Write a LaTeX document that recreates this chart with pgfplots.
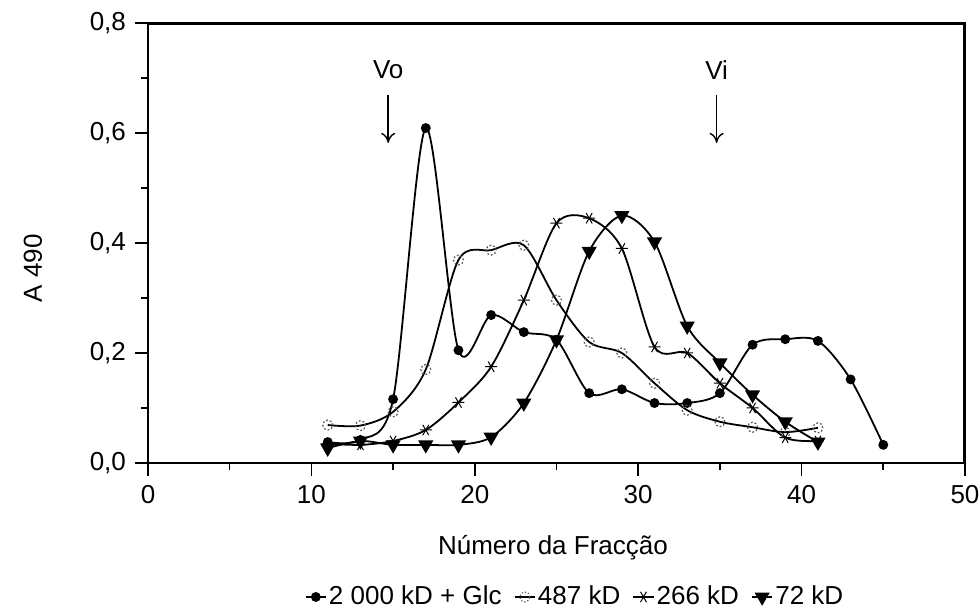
\documentclass[border=0pt]{standalone}
\usepackage{fontspec}
\setmainfont{Liberation Sans}
\usepackage{pgfplots}
\pgfplotsset{compat=1.18}
\usetikzlibrary{arrows.meta}

\begin{document}
\fontsize{13}{15}\selectfont
\begin{tikzpicture}
  \begin{axis}[
    name=main,
    at={(0,0)}, anchor=south west,
    scale only axis, clip=false,
    width=408.5pt, height=220pt,
    xmin=0, xmax=50, ymin=0, ymax=0.8,
    xtick={0,10,...,50},
    ytick={0,0.2,0.4,0.6,0.8},
    minor x tick num=1, minor y tick num=1,
    xtick pos=bottom, ytick pos=left, tick align=outside,
    major tick length=6.5pt, minor tick length=3.5pt,
    major tick style={black, line width=0.8pt},
    minor tick style={black, line width=0.8pt},
    axis line style={black, line width=0.8pt},
    /pgf/number format/assume math mode=true,
    yticklabel style={/pgf/number format/.cd, fixed, fixed zerofill, precision=1, use comma},
    tick label style={font=\fontsize{13}{15}\selectfont},
    xlabel={Número da Fracção},
    ylabel={A 490},
    xlabel style={at={(axis description cs:0.4957,-0.193)}, anchor=center},
    ylabel style={at={(axis description cs:-0.1408,0.443)}, anchor=center},
    legend columns=4,
    legend style={at={(0.5226,-0.3045)}, anchor=center, draw=none, fill=none,
      font=\fontsize{13}{15}\selectfont,
      nodes={inner sep=1pt},
      /tikz/every even column/.append style={column sep=5pt}},
    legend image code/.code={\draw[mark repeat=2, mark phase=2]
      plot coordinates {(0cm,0cm) (0.18cm,0cm) (0.36cm,0cm)};},
    every axis plot/.append style={black, line width=0.9pt, smooth, tension=0.5},
  ]
    \addplot[mark=*, mark size=2pt] coordinates {
      (11,0.038)(13,0.042)(15,0.116)(17,0.609)(19,0.205)(21,0.269)(23,0.238)
      (25,0.224)(27,0.127)(29,0.134)(31,0.109)(33,0.109)(35,0.127)(37,0.215)
      (39,0.225)(41,0.222)(43,0.152)(45,0.033)};
    \addlegendentry{2 000 kD + Glc}
    \addplot[mark=o, mark size=2.5pt, mark options={densely dotted, gray!70!black, line width=0.6pt}] coordinates {
      (11,0.069)(13,0.068)(15,0.093)(17,0.17)(19,0.369)(21,0.387)(23,0.396)
      (25,0.296)(27,0.22)(29,0.2)(31,0.145)(33,0.096)(35,0.075)(37,0.065)
      (39,0.056)(41,0.064)};
    \addlegendentry{487 kD}
    \addplot[mark=asterisk, mark size=3pt, mark options={rotate=90, line width=0.5pt}] coordinates {
      (11,0.035)(13,0.033)(15,0.04)(17,0.06)(19,0.11)(21,0.175)(23,0.296)
      (25,0.436)(27,0.445)(29,0.39)(31,0.211)(33,0.2)(35,0.145)(37,0.1)
      (39,0.046)(41,0.04)};
    \addlegendentry{266 kD}
    \addplot[mark=triangle*, mark size=3.5pt, mark options={rotate=180}] coordinates {
      (11,0.027)(13,0.04)(15,0.033)(17,0.033)(19,0.033)(21,0.047)(23,0.109)
      (25,0.224)(27,0.385)(29,0.45)(31,0.402)(33,0.249)(35,0.182)(37,0.124)
      (39,0.075)(41,0.038)};
    \addlegendentry{72 kD}
    \draw[black, line width=1.5pt] (axis cs:0,0.799) -- (axis cs:49.97,0.799) -- (axis cs:49.97,0);
    \node at (axis cs:14.7,0.715) {Vo};
    \draw[-{To[length=5pt,width=7pt]}, line width=0.7pt] (axis cs:14.7,0.669) -- (axis cs:14.7,0.582);
    \node at (axis cs:34.8,0.715) {Vi};
    \draw[-{To[length=5pt,width=7pt]}, line width=0.7pt] (axis cs:34.8,0.669) -- (axis cs:34.8,0.582);
  \end{axis}
  \pgfresetboundingbox
  \path[use as bounding box] (-74pt,-72.5pt) rectangle (416pt,231.5pt);
\end{tikzpicture}
\end{document}
